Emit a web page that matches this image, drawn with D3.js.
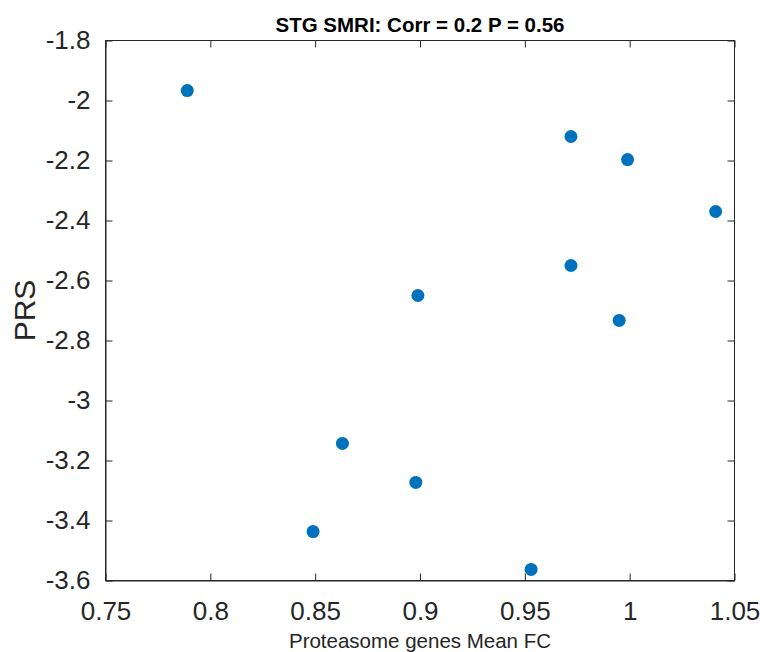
<!DOCTYPE html>
<html>
<head>
<meta charset="utf-8">
<script src="https://cdn.jsdelivr.net/npm/d3@7"></script>
<style>
  body { margin: 0; background: #fff; }
  text { font-family: "Liberation Sans", Arial, Helvetica, sans-serif; }
</style>
</head>
<body>
<svg id="chart"></svg>
<script>
// data
var fcValues = [0.789, 0.972, 0.999, 1.041, 0.972, 0.899, 0.995, 0.863, 0.898, 0.849, 0.953];
var prsValues = [-1.967, -2.12, -2.197, -2.37, -2.55, -2.65, -2.733, -3.143, -3.273, -3.437, -3.563];
var xTicks = [0.75, 0.8, 0.85, 0.9, 0.95, 1, 1.05];
var yTicks = [-1.8, -2, -2.2, -2.4, -2.6, -2.8, -3, -3.2, -3.4, -3.6];

var width = 760;
var height = 652;
var margin = {top: 40.5, right: 25.5, bottom: 71.5, left: 105.5};

var svg = d3.select("#chart").attr("width", width).attr("height", height);

var x = d3.scaleLinear()
    .domain([0.75, 1.05])
    .range([margin.left, width - margin.right]);
var y = d3.scaleLinear()
    .domain([-3.6, -1.8])
    .range([height - margin.bottom, margin.top]);

var tickLen = 7;

// box
svg.append("rect")
    .attr("x", margin.left)
    .attr("y", margin.top)
    .attr("width", width - margin.left - margin.right)
    .attr("height", height - margin.top - margin.bottom)
    .attr("fill", "none")
    .attr("stroke", "#262626")
    .attr("stroke-width", 1);

// bottom axis
var xAxis = svg.append("g")
    .attr("transform", "translate(0," + (height - margin.bottom) + ")")
    .call(d3.axisBottom(x).tickValues(xTicks).tickSizeInner(-tickLen).tickSizeOuter(0).tickPadding(21)
        .tickFormat(function (d) { return String(d); }));
xAxis.select(".domain").attr("stroke", "#262626");
xAxis.selectAll("line").attr("stroke", "#262626");
xAxis.selectAll("text").attr("font-size", "26px").attr("fill", "#262626");

// top ticks
svg.append("g")
    .attr("transform", "translate(0," + margin.top + ")")
    .call(d3.axisTop(x).tickValues(xTicks).tickSizeInner(-tickLen).tickSizeOuter(0).tickFormat(""))
    .call(function (g) { g.select(".domain").remove(); g.selectAll("line").attr("stroke", "#262626"); });

// left axis
var yAxis = svg.append("g")
    .attr("transform", "translate(" + margin.left + ",0)")
    .call(d3.axisLeft(y).tickValues(yTicks).tickSizeInner(-tickLen).tickSizeOuter(0).tickPadding(15)
        .tickFormat(function (d) { return String(d); }));
yAxis.select(".domain").attr("stroke", "#262626");
yAxis.selectAll("line").attr("stroke", "#262626");
yAxis.selectAll("text").attr("font-size", "26px").attr("fill", "#262626");

// right ticks
svg.append("g")
    .attr("transform", "translate(" + (width - margin.right) + ",0)")
    .call(d3.axisRight(y).tickValues(yTicks).tickSizeInner(-tickLen).tickSizeOuter(0).tickFormat(""))
    .call(function (g) { g.select(".domain").remove(); g.selectAll("line").attr("stroke", "#262626"); });

// points
svg.selectAll("circle.pt")
    .data(fcValues)
    .enter()
    .append("circle")
    .attr("class", "pt")
    .attr("cx", function (d) { return x(d); })
    .attr("cy", function (d, i) { return y(prsValues[i]); })
    .attr("r", 6.5)
    .attr("fill", "#0072BD");

// title
svg.append("text")
    .attr("x", (margin.left + width - margin.right) / 2)
    .attr("y", 32)
    .attr("text-anchor", "middle")
    .attr("font-size", "20.5px")
    .attr("font-weight", "bold")
    .attr("fill", "#000")
    .text("STG SMRI: Corr = 0.2 P = 0.56");

// axis labels
svg.append("text")
    .attr("x", (margin.left + width - margin.right) / 2)
    .attr("y", 648)
    .attr("text-anchor", "middle")
    .attr("font-size", "20.5px")
    .attr("fill", "#262626")
    .text("Proteasome genes Mean FC");

svg.append("text")
    .attr("transform", "translate(35," + ((margin.top + height - margin.bottom) / 2) + ") rotate(-90)")
    .attr("text-anchor", "middle")
    .attr("font-size", "30px")
    .attr("fill", "#262626")
    .text("PRS");
</script>
</body>
</html>
